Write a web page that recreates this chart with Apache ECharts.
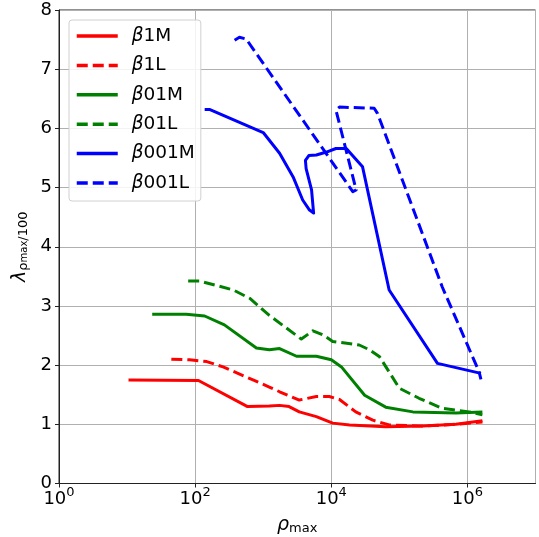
<!DOCTYPE html>
<html><head><meta charset="utf-8">
<script src="https://cdn.jsdelivr.net/npm/echarts@6/dist/echarts.min.js"></script>
<style>html,body{margin:0;padding:0;background:#fff}#c{width:539px;height:537px}</style>
</head><body><div id="c"></div>
<script>
const seriesNames = ['β1M','β1L','β01M','β01L','β001M','β001L'];
const xTicks = [1, 100, 10000, 1000000];
const yTicks = [0,1,2,3,4,5,6,7,8];

const b1M_x = [10.5, 112, 589, 1230, 1740, 2400, 3390, 6030, 10500, 18600, 63100, 219000, 676000, 1660000];
const b1M_y = [1.75, 1.74, 1.30, 1.31, 1.32, 1.30, 1.21, 1.13, 1.02, 0.99, 0.96, 0.97, 1.00, 1.06];

const b1L_x = [44.7, 83, 148, 257, 708, 1230, 1740, 3390, 6030, 9330, 13200, 22900, 40700, 70800, 195000, 676000, 1660000];
const b1L_y = [2.10, 2.09, 2.06, 1.97, 1.75, 1.63, 1.55, 1.41, 1.47, 1.47, 1.42, 1.21, 1.07, 0.99, 0.97, 1.00, 1.04];

const b01M_x = [23.4, 74, 138, 269, 794, 1230, 1740, 3090, 6030, 10000, 14100, 30900, 63100, 158000, 676000, 1660000];
const b01M_y = [2.86, 2.86, 2.83, 2.68, 2.29, 2.26, 2.28, 2.15, 2.15, 2.09, 1.97, 1.49, 1.29, 1.21, 1.19, 1.21];

const b01L_x = [79, 117, 363, 631, 1230, 3630, 5370, 7590, 10500, 25700, 36300, 51300, 100000, 195000, 427000, 1070000, 1660000];
const b01L_y = [3.42, 3.42, 3.27, 3.13, 2.84, 2.44, 2.58, 2.51, 2.40, 2.34, 2.26, 2.14, 1.61, 1.44, 1.27, 1.21, 1.16];

const b001M_x = [138, 162, 1000, 1740, 2750, 3800, 4790, 5500, 5130, 4270, 4170, 4680, 6030, 8510, 11700, 16600, 28800, 70800, 363000, 1580000];
const b001M_y = [6.32, 6.32, 5.93, 5.58, 5.18, 4.79, 4.62, 4.57, 4.96, 5.32, 5.46, 5.54, 5.55, 5.60, 5.66, 5.66, 5.35, 3.27, 2.03, 1.86];

const b001L_x = [380, 447, 562, 20700, 23200, 11700, 13200, 42700, 47900, 427000, 1480000, 1580000];
const b001L_y = [7.49, 7.54, 7.51, 4.93, 4.96, 6.31, 6.36, 6.34, 6.25, 3.32, 1.89, 1.76];

const seriesX = [b1M_x, b1L_x, b01M_x, b01L_x, b001M_x, b001L_x];
const seriesY = [b1M_y, b1L_y, b01M_y, b01L_y, b001M_y, b001L_y];
const colors = ['#ff0000','#ff0000','#008000','#008000','#0000ff','#0000ff'];
const dashed = [false,true,false,true,false,true];

const FONT = 'DejaVu Sans';
const chart = echarts.init(document.getElementById('c'), null, {renderer:'canvas'});

const series = seriesNames.map((n,i)=>({
  name: n, type:'line', symbol:'none', animation:false,
  data: seriesX[i].map((x,j)=>[x, seriesY[i][j]]),
  lineStyle:{color:colors[i], width:3, type: dashed[i] ? [11,5] : 'solid', cap:'butt', join:'round'},
  itemStyle:{color:colors[i]}
}));

chart.setOption({
  animation:false,
  backgroundColor:'#fff',
  grid:{left:59, right:3.5, top:10, bottom:53.5, show:true, borderColor:'#222', borderWidth:1, backgroundColor:'transparent', outerBoundsMode:'none', containLabel:false},
  legend:{
    orient:'vertical', left:69, top:20,
    padding:[6,6,8,6],
    itemWidth:41, itemHeight:20, itemGap:9.4,
    backgroundColor:'rgba(255,255,255,0.85)',
    borderColor:'#d0d0d0', borderWidth:1, borderRadius:3,
    itemStyle:{opacity:0},
    lineStyle:{width:3.5},
    data: seriesNames,
    formatter: n => '{g|β}{t|' + n.slice(1) + '}',
    textStyle:{fontFamily:FONT, fontSize:18.5, lineHeight:20, color:'#000', padding:[0,0,0,9],
      rich:{g:{fontFamily:FONT, fontStyle:'italic', fontSize:18.5, lineHeight:20, color:'#000'}, t:{fontFamily:FONT, fontSize:18.5, lineHeight:20, color:'#000'}}}
  },
  xAxis:{
    type:'log', logBase:100, min:1, max:10000000,
    name:'{r|ρ}{s|max}', nameLocation:'middle', nameGap:32,
    nameTextStyle:{rich:{r:{fontFamily:FONT, fontStyle:'italic', fontSize:19, color:'#000'}, s:{fontFamily:FONT, fontSize:13, color:'#000', padding:[7,0,0,0]}}},
    axisLine:{show:true, onZero:false, lineStyle:{color:'#222', width:1}},
    axisTick:{show:true, length:4, lineStyle:{color:'#222'}},
    axisLabel:{margin:3, showMaxLabel:false, formatter: v => { const e = Math.round(Math.log10(v)); return e % 2 ? '' : '{b|10}{s|' + e + '}'; },
      rich:{b:{fontFamily:FONT, fontSize:18, color:'#000', lineHeight:22, verticalAlign:'bottom'}, s:{fontFamily:FONT, fontSize:13, color:'#000', verticalAlign:'top', lineHeight:13}}},
    splitLine:{show:true, lineStyle:{color:'#b0b0b0', width:1}},
    minorTick:{show:false}
  },
  yAxis:{
    type:'value', min:0, max:8, interval:1,
    name:'{l|λ}{s|ρ}{t|max}{s|/100}', nameLocation:'middle', nameGap:26, nameRotate:90,
    nameTextStyle:{rich:{
      l:{fontFamily:FONT, fontStyle:'italic', fontSize:19, color:'#000'},
      s:{fontFamily:FONT, fontSize:13, color:'#000', padding:[7,0,0,0]},
      t:{fontFamily:FONT, fontSize:10, color:'#000', padding:[10,0,0,0]}
    }},
    axisLine:{show:true, lineStyle:{color:'#222', width:1}},
    axisTick:{show:true, length:4, lineStyle:{color:'#222'}},
    axisLabel:{fontFamily:FONT, fontSize:18, color:'#000', margin:7},
    splitLine:{show:true, lineStyle:{color:'#b0b0b0', width:1}}
  },
  series: series
});
</script></body></html>
